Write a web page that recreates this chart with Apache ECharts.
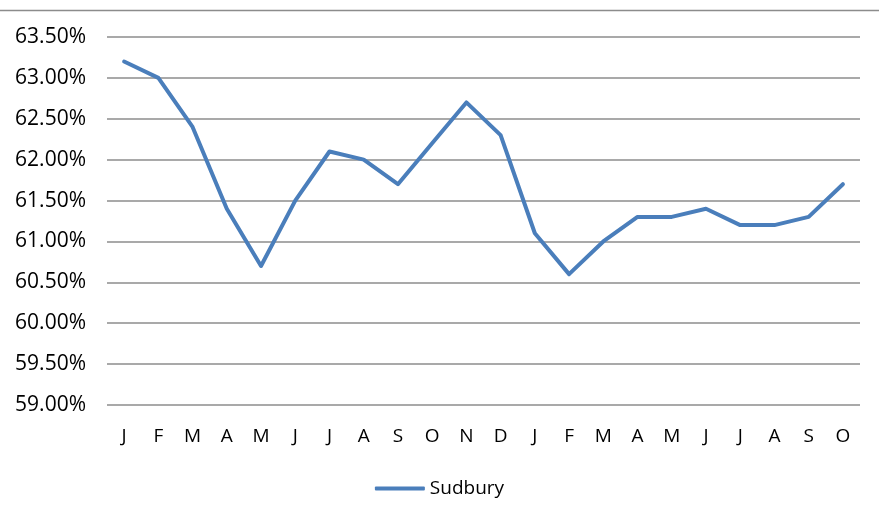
<!DOCTYPE html>
<html><head><meta charset="utf-8">
<script src="https://cdn.jsdelivr.net/npm/echarts@6/dist/echarts.min.js"></script>
<style>html,body{margin:0;padding:0;background:#fff}#c{width:879px;height:514px}</style>
</head><body><div id="c"></div>
<script>
const categories = ['J','F','M','A','M','J','J','A','S','O','N','D','J','F','M','A','M','J','J','A','S','O'];
const seriesName = 'Sudbury';
const values = [63.2,63.0,62.4,61.4,60.7,61.5,62.1,62.0,61.7,62.2,62.7,62.3,61.1,60.6,61.0,61.3,61.3,61.4,61.2,61.2,61.3,61.7];
const yMin = 59.0, yMax = 63.5, yStep = 0.5;

const chart = echarts.init(document.getElementById('c'), null, {renderer:'canvas'});
const font = '"Open Sans", "Noto Sans", sans-serif';
chart.setOption({
  animation:false,
  graphic:[{type:'line', shape:{x1:0,y1:10.5,x2:879,y2:10.5}, style:{stroke:'#8c8c8c', lineWidth:1.5}}],
  grid:{left:107, right:19, top:37, bottom:109, containLabel:false},
  xAxis:{type:'category', data:categories, boundaryGap:true,
    axisLine:{show:false}, axisTick:{show:false},
    axisLabel:{color:'#000', fontSize:19, fontFamily:font, margin:22}},
  yAxis:{type:'value', min:yMin, max:yMax, interval:yStep,
    axisLine:{show:false}, axisTick:{show:false},
    splitLine:{lineStyle:{color:'#8c8c8c', width:1.5}},
    axisLabel:{color:'#000', fontSize:21, fontFamily:font, margin:21,
      formatter:v=>v.toFixed(2)+'%'}},
  legend:{bottom:11, left:'center', itemWidth:50, itemHeight:4, itemGap:5,
    icon:'roundRect',
    textStyle:{color:'#000', fontSize:19, fontFamily:font},
    data:[{name:seriesName, icon:'roundRect'}]},
  series:[{name:seriesName, type:'line', data:values, symbol:'none',
    lineStyle:{color:'#4a7ebb', width:4, cap:'round', join:'round'}, itemStyle:{color:'#4a7ebb'}}]
});
</script></body></html>
